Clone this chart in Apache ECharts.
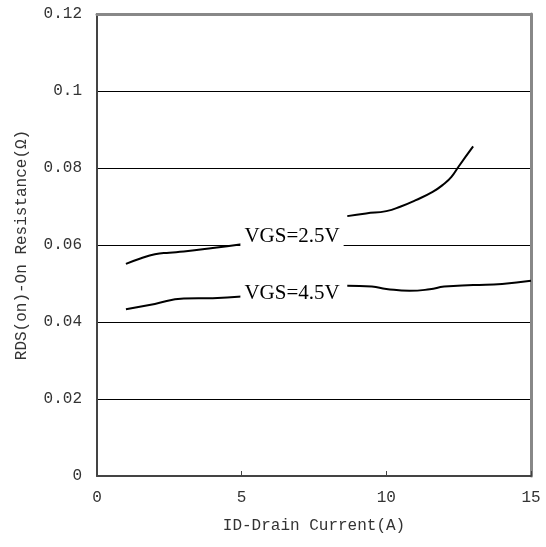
<!DOCTYPE html>
<html><head><meta charset="utf-8">
<script src="https://cdn.jsdelivr.net/npm/echarts@6/dist/echarts.min.js"></script>
<style>html,body{margin:0;padding:0;background:#fff}#c{width:546px;height:547px}</style>
</head><body><div id="c"></div>
<script>
// VGS=2.5V curve (two visible segments, interrupted by the label)
const x25a = [1, 1.5, 2, 2.5, 3, 4, 5];
const y25a = [0.0551, 0.0565, 0.0576, 0.0580, 0.0583, 0.0592, 0.0602];
const x25b = [8.65, 9.3, 10, 10.5, 11, 11.6, 12, 12.25, 12.5, 13];
const y25b = [0.0675, 0.0682, 0.0688, 0.0700, 0.0716, 0.0738, 0.0759, 0.0777, 0.0804, 0.0856];
// VGS=4.5V curve
const x45a = [1, 2, 3, 4, 5];
const y45a = [0.0433, 0.0447, 0.0461, 0.0462, 0.0466];
const x45b = [8.65, 9.5, 10, 10.8, 11.5, 12, 13, 14, 15];
const y45b = [0.0494, 0.0492, 0.0486, 0.0481, 0.0485, 0.0492, 0.0496, 0.0499, 0.0507];
// labels
const labelText = ['VGS=2.5V', 'VGS=4.5V'];
const labelX = [6.74, 6.74];
const labelY = [0.0621, 0.0475];

const zip = (xs, ys) => xs.map((x, i) => [x, ys[i]]);
const mono = 'Liberation Mono';
const lineStyle = {color: '#000', width: 2};
function seg(xs, ys, mp) {
  const s = {type: 'line', data: zip(xs, ys), smooth: 0.5, showSymbol: false, symbol: 'none',
    lineStyle: lineStyle, itemStyle: {color: '#000'}, silent: true, z: 3};
  if (mp !== undefined) {
    s.markPoint = {symbol: 'rect', symbolSize: 0, silent: true,
      data: [{coord: [labelX[mp], labelY[mp]], value: labelText[mp]}],
      label: {show: true, formatter: labelText[mp], color: '#000', fontFamily: 'Liberation Serif',
        fontSize: 21, backgroundColor: '#fff', padding: [2, 4], position: 'inside'}};
  }
  return s;
}
const frameAxis = {show: true, onZero: false, lineStyle: {color: '#888', width: 3}};
const chart = echarts.init(document.getElementById('c'), null, {renderer: 'canvas'});
chart.setOption({
  animation: false,
  backgroundColor: '#fff',
  grid: {left: 97, right: 15, top: 14, bottom: 71, show: false},
  xAxis: [{type: 'value', min: 0, max: 15, interval: 5, position: 'bottom',
    name: 'ID-Drain Current(A)', nameLocation: 'middle', nameGap: 42,
    nameTextStyle: {fontFamily: mono, fontSize: 16, color: '#333'},
    axisLine: {show: true, onZero: false, lineStyle: {color: '#444', width: 2}},
    axisTick: {show: true, inside: true, length: 5, lineStyle: {color: '#444', width: 1}},
    axisLabel: {fontFamily: mono, fontSize: 16, color: '#333', margin: 14},
    splitLine: {show: false}},
   {type: 'value', position: 'top', min: 0, max: 15, interval: 5,
    axisLine: frameAxis, axisTick: {show: false}, axisLabel: {show: false}, splitLine: {show: false}}],
  yAxis: [{type: 'value', min: 0, max: 0.12, interval: 0.02, position: 'left',
    name: 'RDS(on)-On Resistance(Ω)', nameLocation: 'middle', nameGap: 67,
    nameTextStyle: {fontFamily: mono, fontSize: 16, color: '#333'},
    axisLine: {show: true, onZero: false, lineStyle: {color: '#444', width: 2}},
    axisTick: {show: false},
    axisLabel: {fontFamily: mono, fontSize: 16, color: '#333', margin: 15,
      formatter: v => v === 0 ? '0' : String(+v.toFixed(2))},
    splitLine: {show: true, lineStyle: {color: '#000', width: 1}}},
   {type: 'value', position: 'right', min: 0, max: 0.12, interval: 0.02,
    axisLine: frameAxis, axisTick: {show: false}, axisLabel: {show: false}, splitLine: {show: false}}],
  series: [
    seg(x25a, y25a, 0),
    seg(x25b, y25b),
    seg(x45a, y45a, 1),
    seg(x45b, y45b)
  ]
});
</script></body></html>
